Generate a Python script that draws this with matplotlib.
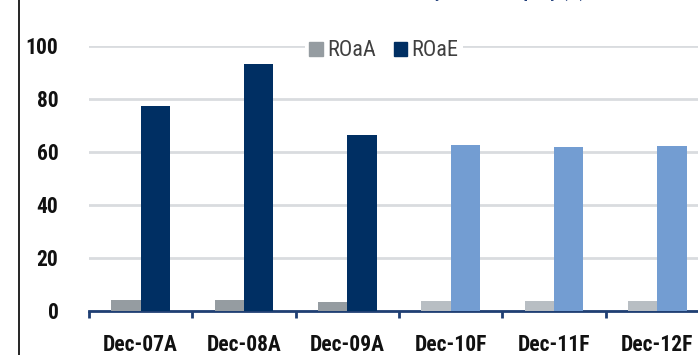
import matplotlib.pyplot as plt
import numpy as np
from matplotlib.lines import Line2D

plt.rcParams['font.family'] = ['Liberation Sans Narrow', 'Arial Narrow', 'Roboto Condensed',
                               'Archivo Narrow', 'DejaVu Sans']

# data
periods = ['Dec-07A', 'Dec-08A', 'Dec-09A', 'Dec-10F', 'Dec-11F', 'Dec-12F']
roaa = [3.9, 4.2, 3.1, 3.6, 3.6, 3.6]
roae = [77.0, 93.0, 66.4, 62.5, 61.8, 62.2]
is_forecast = [False, False, False, True, True, True]
yticks = [0, 20, 40, 60, 80, 100]

roaa_cols = ['#B8BEC3' if f else '#959CA1' for f in is_forecast]
roae_cols = ['#739DD2' if f else '#002F63' for f in is_forecast]

fig = plt.figure(figsize=(6.98, 3.55), dpi=100)
ax = fig.add_axes([89/698, 1 - 310.7/355, 620/698, 265.2/355])

x = np.arange(len(periods))
w = 0.285
ax.bar(x - w/2, roaa, w, color=roaa_cols, zorder=3)
ax.bar(x + w/2, roae, w, color=roae_cols, zorder=3)

ax.set_xlim(-0.5, len(periods) - 0.5)
ax.set_ylim(0, 100)
ax.set_yticks(yticks)
ax.yaxis.grid(True, color='#D9DCDF', lw=2)
ax.set_axisbelow(True)
for s in ['top', 'right', 'left']:
    ax.spines[s].set_visible(False)
ax.spines['bottom'].set_color('#1F3F73')
ax.spines['bottom'].set_linewidth(2)

# tick marks between categories, labels at centres
ax.set_xticks(np.arange(-0.5, len(periods) + 0.5, 1))
ax.set_xticklabels([])
ax.tick_params(axis='x', which='major', direction='out', length=5, width=2, color='#1F3F73')
ax.set_xticks(x, minor=True)
ax.set_xticklabels(periods, minor=True, fontsize=15.5, color='#111111', fontweight='bold')
ax.tick_params(axis='x', which='minor', length=0, pad=17)
ax.tick_params(axis='y', length=0, pad=22, labelsize=15.5, labelcolor='#111111')
for t in ax.get_yticklabels():
    t.set_fontweight('bold')

handles = [plt.Rectangle((0, 0), 1, 1, color='#959CA1'),
           plt.Rectangle((0, 0), 1, 1, color='#002F63')]
fig.legend(handles, ['ROaA', 'ROaE'], loc='center', bbox_to_anchor=(384/698, 1 - 51/355),
           ncol=2, frameon=True, facecolor='white', edgecolor='none', framealpha=1,
           fontsize=16, labelcolor='#404040', handlelength=0.6, handleheight=0.6,
           handletextpad=0.2, columnspacing=0.8, borderpad=0.2)

# cut-off title at the top edge
fig.text(585/698, 1 + 3/355, 'Profitability of the company (%)', ha='right', va='baseline',
         fontsize=13, fontweight='bold', color='#1F3D7A')

fig.add_artist(Line2D([19/698, 19/698], [0, 1], color='black', lw=1.2, transform=fig.transFigure))

fig.savefig('out.png', dpi=100)
